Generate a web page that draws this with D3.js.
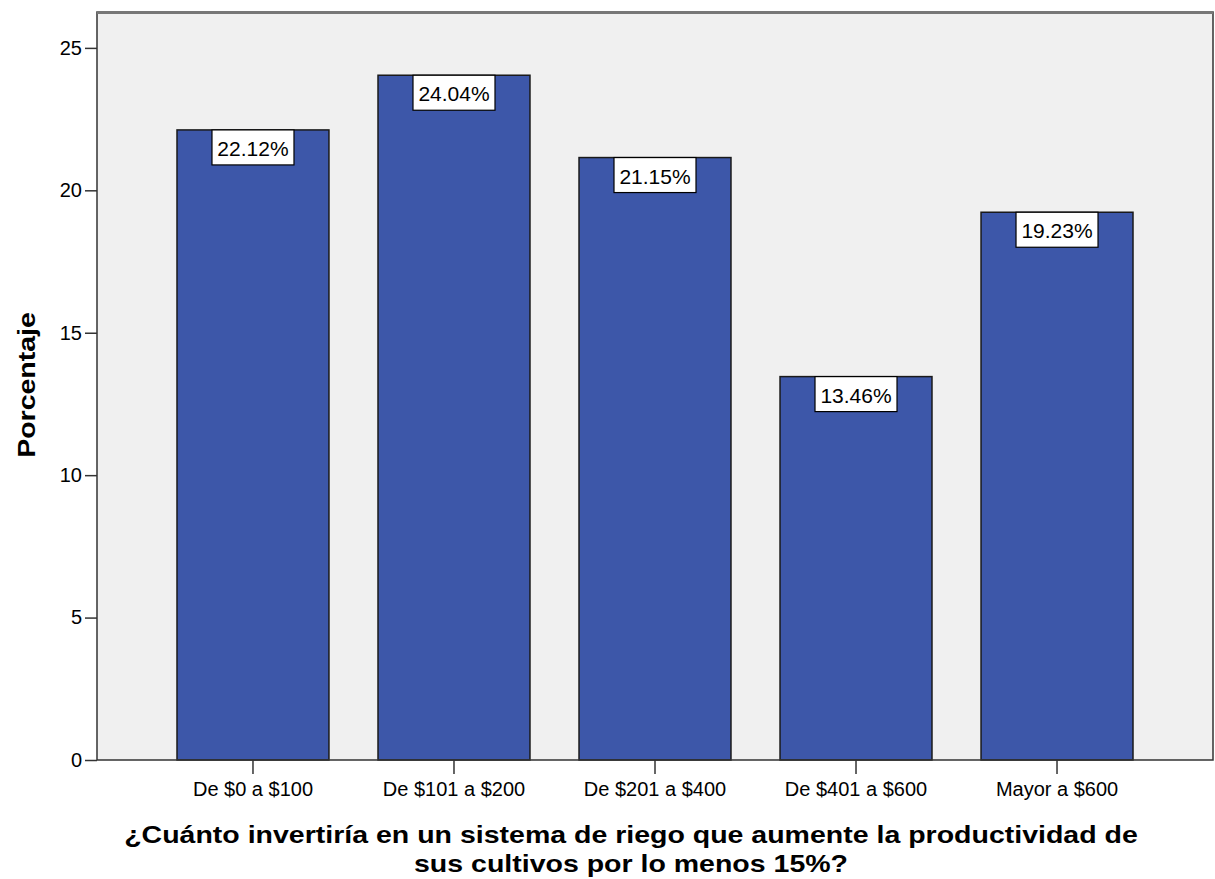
<!DOCTYPE html>
<html>
<head>
<meta charset="utf-8">
<script src="https://cdn.jsdelivr.net/npm/d3@7"></script>
<style>
  body { margin: 0; background: #fff; }
  svg text { font-family: "Liberation Sans", Arial, sans-serif; fill: #000; }
</style>
</head>
<body>
<div id="chart"></div>
<script>
// data
var categories = ["De $0 a $100", "De $101 a $200", "De $201 a $400", "De $401 a $600", "Mayor a $600"];
var percents = [22.12, 24.04, 21.15, 13.46, 19.23];
var yTicks = [0, 5, 10, 15, 20, 25];
var xTitleLines = ["¿Cuánto invertiría en un sistema de riego que aumente la productividad de",
                   "sus cultivos por lo menos 15%?"];
var yTitle = "Porcentaje";

var svgWidth = 1215;
var svgHeight = 879;

var margin = { top: 12, right: 2, bottom: 119, left: 97 };
var width = svgWidth - margin.left - margin.right;
var height = svgHeight - margin.top - margin.bottom;

var svg = d3.select("#chart")
  .append("svg")
  .attr("width", svgWidth)
  .attr("height", svgHeight);

var chartGroup = svg.append("g")
  .attr("transform", `translate(${margin.left}, ${margin.top})`);

var xScale = d3.scaleBand()
  .domain(categories)
  .range([0, width])
  .paddingInner(0.244)
  .paddingOuter(0.398);

var yScale = d3.scaleLinear()
  .domain([0, 26.26])
  .range([height, 0]);

// plot background
chartGroup.append("rect")
  .attr("width", width)
  .attr("height", height)
  .attr("fill", "#f0f0f0");

// bars
chartGroup.selectAll(".bar")
  .data(percents)
  .enter()
  .append("rect")
  .classed("bar", true)
  .attr("x", (d, i) => xScale(categories[i]))
  .attr("y", d => yScale(d))
  .attr("width", xScale.bandwidth())
  .attr("height", d => height - yScale(d))
  .attr("fill", "#3d57a9")
  .attr("stroke", "#1a1a1a")
  .attr("stroke-width", 1.5);

// frame
chartGroup.append("rect")
  .attr("width", width)
  .attr("height", height)
  .attr("fill", "none")
  .attr("stroke", "#333")
  .attr("stroke-width", 1.5);
chartGroup.append("line")
  .attr("x1", 0).attr("x2", width)
  .attr("y1", 0.5).attr("y2", 0.5)
  .attr("stroke", "#777")
  .attr("stroke-width", 3);

// value labels
var labels = chartGroup.selectAll(".valLabel")
  .data(percents)
  .enter()
  .append("g")
  .classed("valLabel", true)
  .attr("transform", (d, i) => `translate(${xScale(categories[i]) + xScale.bandwidth() / 2}, ${yScale(d)})`);

labels.append("rect")
  .attr("x", -41)
  .attr("y", 0)
  .attr("width", 82)
  .attr("height", 35)
  .attr("fill", "#fff")
  .attr("stroke", "#000")
  .attr("stroke-width", 1.2);

labels.append("text")
  .attr("x", 0)
  .attr("y", 26)
  .attr("text-anchor", "middle")
  .attr("font-size", "21px")
  .text(d => d.toFixed(2) + "%");

// axes
var leftAxis = d3.axisLeft(yScale)
  .tickValues(yTicks)
  .tickSize(12)
  .tickPadding(3);

var bottomAxis = d3.axisBottom(xScale)
  .tickSize(14)
  .tickPadding(8);

var yAxis = chartGroup.append("g").call(leftAxis);
yAxis.select(".domain").remove();
yAxis.selectAll("line").attr("stroke", "#333").attr("stroke-width", 1.5);
yAxis.selectAll("text").attr("font-size", "20px").attr("font-family", "Liberation Sans, Arial, sans-serif");

var xAxis = chartGroup.append("g")
  .attr("transform", `translate(0, ${height})`)
  .call(bottomAxis);
xAxis.select(".domain").remove();
xAxis.selectAll("line").attr("stroke", "#333").attr("stroke-width", 1.5);
xAxis.selectAll("text").attr("font-size", "20px").attr("font-family", "Liberation Sans, Arial, sans-serif");

// axis titles: the original bold face is wider, so stretch it along the line
var stretch = 1.24;

var xTitle = svg.append("text")
  .attr("transform", `translate(631, 0) scale(${stretch}, 1)`)
  .attr("text-anchor", "middle")
  .attr("font-size", "23px")
  .attr("font-weight", "bold");
xTitle.selectAll("tspan")
  .data(xTitleLines)
  .enter()
  .append("tspan")
  .attr("x", 0)
  .attr("y", (d, i) => 843 + i * 29)
  .text(d => d);

svg.append("text")
  .attr("transform", `translate(35, 385) rotate(-90) scale(${stretch}, 1)`)
  .attr("text-anchor", "middle")
  .attr("font-size", "23px")
  .attr("font-weight", "bold")
  .text(yTitle);
</script>
</body>
</html>
